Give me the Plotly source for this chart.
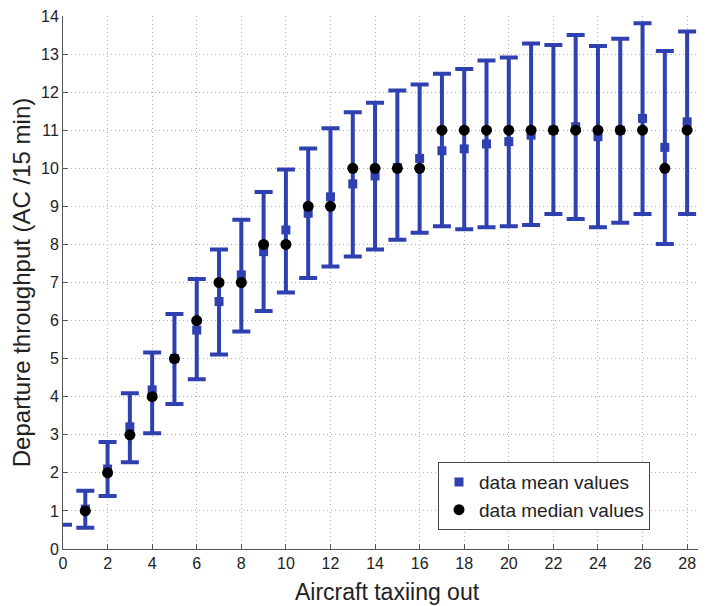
import plotly.graph_objects as go

# Data
aircraft_taxiing = list(range(0, 30))
mean_values = [None, 1.05, 2.10, 3.21, 4.18, 5.00, 5.75, 6.50, 7.20, 7.81, 8.38, 8.82, 9.25, 9.59,
               9.80, 10.02, 10.26, 10.46, 10.51, 10.64, 10.70, 10.87, 11.00, 11.09, 10.83,
               11.00, 11.31, 10.55, 11.22, 10.40]
median_values = [None, 1, 2, 3, 4, 5, 6, 7, 7, 8, 8, 9, 9, 10, 10, 10, 10, 11, 11, 11, 11, 11,
                 11, 11, 11, 11, 11, 10, 11, 10]
upper_bound = [0.64, 1.53, 2.81, 4.09, 5.16, 6.17, 7.09, 7.87, 8.65, 9.38, 9.97, 10.52, 11.05,
               11.47, 11.72, 12.04, 12.20, 12.48, 12.61, 12.83, 12.91, 13.28, 13.24, 13.50,
               13.21, 13.40, 13.81, 13.08, 13.59, 12.41]
lower_bound = [0.64, 0.56, 1.39, 2.28, 3.04, 3.81, 4.46, 5.11, 5.71, 6.25, 6.74, 7.12, 7.42,
               7.68, 7.87, 8.12, 8.31, 8.48, 8.40, 8.45, 8.48, 8.51, 8.80, 8.67, 8.45, 8.57,
               8.80, 8.01, 8.80, 8.33]

x_ticks = list(range(0, 32, 2))
y_ticks = list(range(0, 15))

BLUE = "#2f40b0"
FONT = "Liberation Sans, Arial, Helvetica, sans-serif"
TXT = "#222222"

span = [u - l for u, l in zip(upper_bound, lower_bound)]
zeros = [0] * len(span)

fig = go.Figure()

# Error bars (range between lower and upper bound)
fig.add_trace(go.Scatter(
    x=aircraft_taxiing, y=lower_bound, mode="markers",
    marker=dict(size=1, color="rgba(0,0,0,0)"),
    error_y=dict(type="data", symmetric=False, array=span, arrayminus=zeros,
                 color=BLUE, thickness=4, width=9),
    showlegend=False, hoverinfo="skip",
))

fig.add_trace(go.Scatter(
    x=aircraft_taxiing, y=mean_values, mode="markers", name="data mean values",
    marker=dict(symbol="square", size=9, color=BLUE, line=dict(width=0)),
))

fig.add_trace(go.Scatter(
    x=aircraft_taxiing, y=median_values, mode="markers", name="data median values",
    marker=dict(symbol="circle", size=11, color="black", line=dict(width=0)),
))

axis_common = dict(
    showline=True, linecolor="#555555", linewidth=1,
    ticks="inside", ticklen=5, tickcolor="#555555", tickwidth=1,
    showgrid=True, gridcolor="#b0b0b0", griddash="1px,3px", gridwidth=1,
    zeroline=False, mirror=False, automargin=False,
    tickfont=dict(family=FONT, size=16, color=TXT),
    ticklabeloverflow="allow",
    layer="above traces",
)

# plot area runs past the visible window on the right, like the cropped original
PLOT_W = 658
PLOT_H = 533
fig.update_xaxes(range=[0, 29.52], tickvals=x_ticks, **axis_common)
fig.update_yaxes(
    range=[0, 14], tickvals=y_ticks,
    title=dict(text="Departure throughput (AC /15 min)",
               font=dict(family=FONT, size=24, color=TXT), standoff=6),
    **axis_common,
)

fig.add_annotation(
    text="Aircraft taxiing out", xref="paper", yref="paper",
    x=324 / PLOT_W, y=-43 / PLOT_H, xanchor="center", yanchor="middle",
    showarrow=False, font=dict(family=FONT, size=23, color=TXT),
)

# The page adds an 8px body margin, so the figure is sized/margined to compensate
fig.update_layout(
    width=55 + PLOT_W, height=598,
    margin=dict(l=55, r=0, t=8, b=57),
    paper_bgcolor="white", plot_bgcolor="white",
    font=dict(family=FONT, color=TXT),
    legend=dict(
        x=375 / PLOT_W, y=0.163, xanchor="left", yanchor="top",
        bgcolor="white", bordercolor="#444444", borderwidth=1,
        font=dict(family=FONT, size=19, color=TXT),
        itemsizing="trace", tracegroupgap=0,
    ),
)

fig.write_html("out.html")
